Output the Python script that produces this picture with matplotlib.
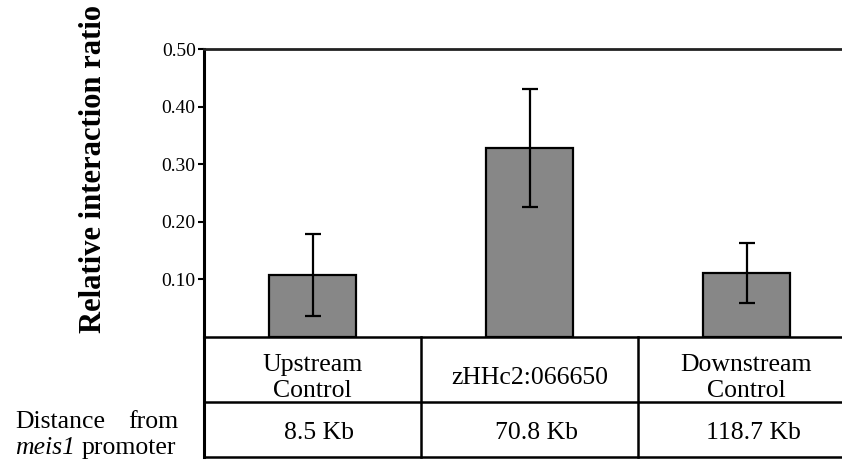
import matplotlib
matplotlib.use("Agg")
import matplotlib.pyplot as plt

# data
sites = ["Upstream\nControl", "zHHc2:066650", "Downstream\nControl"]
distances = ["8.5 Kb", "70.8 Kb", "118.7 Kb"]
ratio = [0.108, 0.328, 0.111]
ratio_err = [0.071, 0.103, 0.052]
yticks = [0.10, 0.20, 0.30, 0.40, 0.50]

plt.rcParams["font.family"] = ["Liberation Serif", "DejaVu Serif"]

W, H = 842, 461
fig = plt.figure(figsize=(W / 100, H / 100), dpi=100)
# axes runs past the right edge of the picture, like the cropped original
ax = fig.add_axes([204 / W, 124 / H, 651 / W, 288 / H])

x = [i + 0.5 for i in range(len(ratio))]
ax.bar(x, ratio, width=0.405, color="#878787", edgecolor="black", linewidth=1.6, zorder=2)
ax.errorbar(x, ratio, yerr=ratio_err, fmt="none", ecolor="black", elinewidth=1.6,
            capsize=5.8, capthick=1.6, zorder=3)

ax.set_xlim(0, 3)
ax.set_ylim(0, 0.5)
ax.set_yticks(yticks)
ax.set_yticklabels(["%.2f" % t for t in yticks], fontsize=14)
ax.set_xticks([])
ax.tick_params(axis="y", direction="out", length=4, width=1.5, pad=2)
ax.spines["right"].set_visible(False)
ax.spines["left"].set_linewidth(2.2)
ax.spines["top"].set_linewidth(2.0)
ax.spines["top"].set_color("#222222")
ax.spines["bottom"].set_linewidth(1.8)

# table under the bars (in data units below zero)
row1 = -65 / 576
row2 = -120 / 576
lw = 1.8
for yy in [row1, row2]:
    ax.plot([0, 3], [yy, yy], color="black", lw=lw, clip_on=False)
for xx in [0, 1, 2, 3]:
    ax.plot([xx, xx], [0, row2], color="black", lw=lw if xx else 2.2, clip_on=False)

for xi, s, d in zip(x, sites, distances):
    ax.text(xi, -41 / 576, s, ha="center", va="center", fontsize=18.5, linespacing=1.25, clip_on=False)
    ax.text(xi + 0.03, -96 / 576, d, ha="center", va="center", fontsize=18.5, clip_on=False)

fig.text(94 / W, 1 - 169 / H, "Relative interaction ratio", rotation=90, ha="center", va="center",
         fontsize=22, fontweight="bold")

fig.text(15 / W, 33 / H, "Distance", ha="left", va="baseline", fontsize=18.5)
fig.text(178 / W, 33 / H, "from", ha="right", va="baseline", fontsize=18.5)
fig.text(15 / W, 7 / H, "meis1", ha="left", va="baseline", fontsize=18.5, style="italic")
fig.text(176 / W, 7 / H, "promoter", ha="right", va="baseline", fontsize=18.5)

fig.savefig("out.png", dpi=100)
